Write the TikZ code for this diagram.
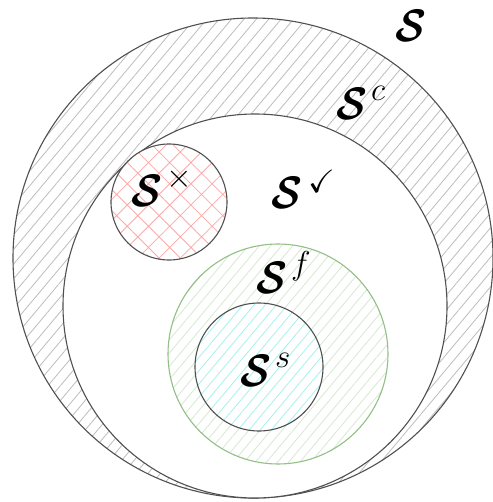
\documentclass[tikz,border=0pt]{standalone}
\usepackage{graphicx}
\usepackage{amssymb}
\usetikzlibrary{patterns.meta}
\definecolor{ringline}{HTML}{BDBDBD}
\definecolor{redhatch}{HTML}{FFA8A8}
\definecolor{greenhatch}{HTML}{D6E9D0}
\definecolor{greenedge}{HTML}{92C086}
\definecolor{cyanhatch}{HTML}{A8F0F0}
\definecolor{edge}{HTML}{505050}
\newcommand{\calS}{\scalebox{1.95}[2.2]{\fontsize{20}{24}\selectfont\boldmath$\mathcal{S}$}}
\newcommand{\supl}[1]{\raisebox{19pt}{\scalebox{2.3}{\fontsize{14}{16}\selectfont #1}}}
\newcommand{\setlab}[1]{\makebox[35pt][l]{\calS}\supl{#1}}
\begin{document}
\begin{tikzpicture}[x=1pt,y=-1pt,
  circ/.style={draw=edge, line width=1.1pt},
  lab/.style={inner sep=0pt, anchor=base west}]
\useasboundingbox (0,0) rectangle (492,502);
% outer set S^c ring
\path[fill=white] (253,258) circle[radius=240pt];
\path[pattern={Lines[angle=50,distance=9.5pt,line width=0.8pt]}, pattern color=ringline] (253,258) circle[radius=240pt];
\draw[circ] (253,258) circle[radius=240pt];
% inner set
\path[fill=white, circ] (255,306) circle[radius=192pt];
% S^x
\path[fill=white] (169,202) circle[radius=58pt];
\path[pattern={Hatch[angle=45,distance=15pt,line width=0.8pt]}, pattern color=redhatch] (169,202) circle[radius=58pt];
\draw[circ] (169,202) circle[radius=58pt];
% S^f
\path[fill=white] (278,354) circle[radius=110pt];
\path[pattern={Lines[angle=50,distance=8.5pt,line width=0.8pt]}, pattern color=greenhatch] (278,354) circle[radius=110pt];
\draw[draw=greenedge, line width=1.1pt] (278,354) circle[radius=110pt];
% S^s
\path[fill=white] (259,367) circle[radius=64pt];
\path[pattern={Lines[angle=50,distance=8.5pt,line width=0.8pt]}, pattern color=cyanhatch] (259,367) circle[radius=64pt];
\draw[circ] (259,367) circle[radius=64pt];
% labels
\node[lab] (lS) at (395,42) {\calS};
\node[lab] (lSc) at (336,120) {\setlab{$c$}};
\node[lab] (lSx) at (131,207) {\setlab{$\times$}};
\node[lab] (lSok) at (271,209) {\makebox[37pt][l]{\calS}\raisebox{-2pt}{\supl{$\checkmark$}}};
\node[lab] (lSf) at (256,293) {\setlab{$f$}};
\node[lab] (lSs) at (240,386) {\setlab{$s$}};
\end{tikzpicture}
\end{document}
